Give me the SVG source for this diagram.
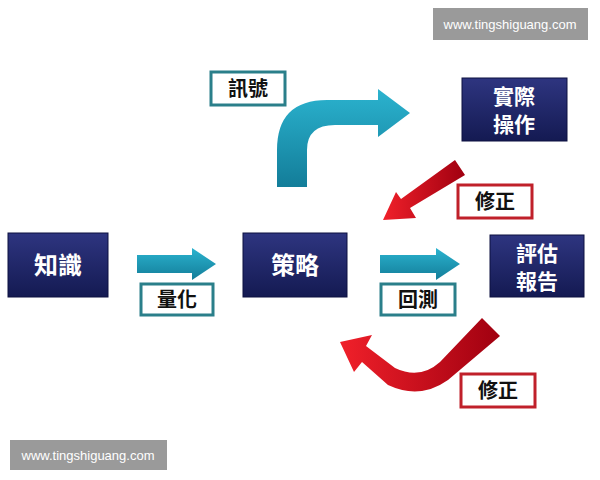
<svg xmlns="http://www.w3.org/2000/svg" width="600" height="480" viewBox="0 0 600 480">
<defs>
<linearGradient id="navy" x1="0" y1="0" x2="0" y2="1"><stop offset="0" stop-color="#2e3580"/><stop offset="1" stop-color="#141a52"/></linearGradient>
<linearGradient id="blue" x1="0" y1="0" x2="0" y2="1"><stop offset="0" stop-color="#2bb3cf"/><stop offset="1" stop-color="#137d99"/></linearGradient>
<linearGradient id="red" x1="0" y1="0" x2="1" y2="0"><stop offset="0" stop-color="#f0202a"/><stop offset="1" stop-color="#a00010"/></linearGradient>
<style>
.node{fill:url(#navy);stroke:#0d1040;stroke-width:1}
.nt{font-family:"Noto Sans CJK TC",sans-serif;font-size:24px;font-weight:bold;fill:#fff;text-anchor:middle}
.n2{font-family:"Noto Sans CJK TC",sans-serif;font-size:21px;font-weight:bold;fill:#fff;text-anchor:middle}
.lb{fill:#fff;stroke-width:3}
.lt{font-family:"Noto Sans CJK TC",sans-serif;font-size:20px;font-weight:bold;fill:#111;text-anchor:middle}
.wm{fill:#9a9a9a}
.wt{font-family:"Liberation Sans",sans-serif;font-size:13px;fill:#fff;text-anchor:middle}
</style>
</defs>
<rect width="600" height="480" fill="#fff"/>
<g id="connectors">
<path d="M137,255 H192 V248 L216,264 L192,280 V273 H137 Z" fill="url(#blue)"/>
<path d="M380,255 H436 V248 L460,264 L436,280 V273 H380 Z" fill="url(#blue)"/>
<path d="M277,187 V150 Q277,100 327,100 H378 V89 L410,113 L378,137 V125 H335 Q307,125 307,150 V187 Z" fill="url(#blue)"/>
<path d="M455,160 L465,175 L410,208 L416,218 L383,220 L396,192 L401,199 Z" fill="url(#red)"/>
<path d="M482,318 L500,336 L448,380 Q420,400 388,385 L362,362 L354,372 L340,342 L372,335 L366,346 L395,368 Q420,380 440,362 Z" fill="url(#red)"/>
</g>
<g id="n-zhishi"><rect class="node" x="8" y="233" width="100" height="64"/><text class="nt" x="58" y="274">知識</text></g>
<g id="n-celue"><rect class="node" x="243" y="233" width="104" height="64"/><text class="nt" x="295" y="274">策略</text></g>
<g id="n-pinggu"><rect class="node" x="490" y="235" width="94" height="62"/><text class="n2" x="537" y="261">評估</text><text class="n2" x="537" y="289">報告</text></g>
<g id="n-shiji"><rect class="node" x="462" y="78" width="105" height="63"/><text class="n2" x="514" y="104">實際</text><text class="n2" x="514" y="132">操作</text></g>
<g id="l-xunhao"><rect class="lb" x="211" y="72" width="74" height="33" stroke="#2a7f8a"/><text class="lt" x="248" y="96">訊號</text></g>
<g id="l-xiuzheng1"><rect class="lb" x="458" y="185" width="74" height="33" stroke="#c0202a"/><text class="lt" x="495" y="209">修正</text></g>
<g id="l-lianghua"><rect class="lb" x="141" y="284" width="72" height="31" stroke="#2a7f8a"/><text class="lt" x="177" y="307">量化</text></g>
<g id="l-huice"><rect class="lb" x="381" y="284" width="74" height="31" stroke="#2a7f8a"/><text class="lt" x="418" y="307">回測</text></g>
<g id="l-xiuzheng2"><rect class="lb" x="461" y="374" width="74" height="33" stroke="#c0202a"/><text class="lt" x="498" y="398">修正</text></g>
<g id="wm1"><rect class="wm" x="433" y="8" width="155" height="32"/><text class="wt" x="510" y="29">www.tingshiguang.com</text></g>
<g id="wm2"><rect class="wm" x="10" y="440" width="157" height="30"/><text class="wt" x="88" y="460">www.tingshiguang.com</text></g>
</svg>
